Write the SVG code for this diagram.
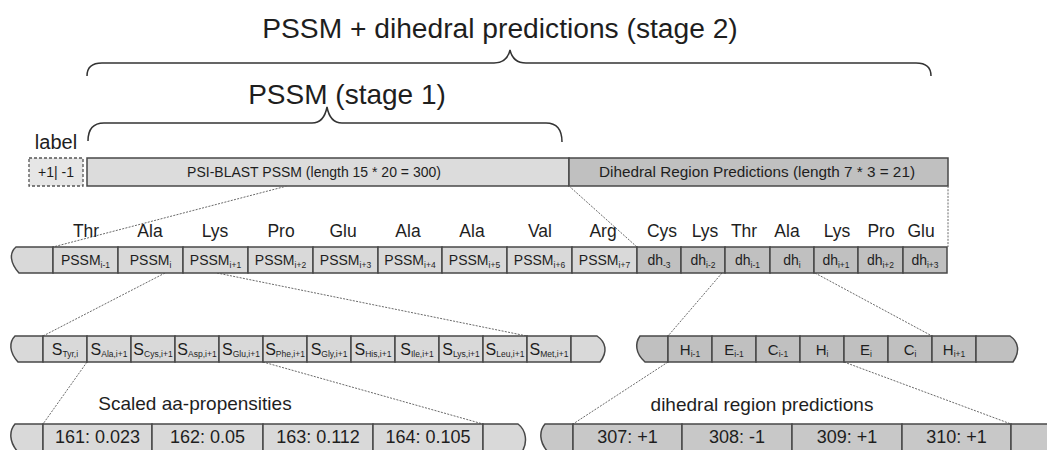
<svg xmlns="http://www.w3.org/2000/svg" width="1047" height="450" viewBox="0 0 1047 450">
  <style>
    text { font-family: "Liberation Sans", Arial, Helvetica, sans-serif; fill: #1e1e1e; }
    .lt { fill: #d9d9d9; stroke: #484848; stroke-width: 1.5; }
    .dk { fill: #c0c0c0; stroke: #484848; stroke-width: 1.5; }
    .dash { fill: #e6e6e6; stroke: #555; stroke-width: 1.3; stroke-dasharray: 3 2; }
    .brace { fill: none; stroke: #333; stroke-width: 1.5; }
    .conn { fill: none; stroke: #6a6a6a; stroke-width: 1; stroke-dasharray: 2 1.3; }
    .aa { font-size: 17.5px; text-anchor: middle; }
    .bar { font-size: 14px; text-anchor: middle; }
    .ps { font-size: 14px; text-anchor: middle; }
    .sc { font-size: 16px; text-anchor: middle; }
    .hc { font-size: 15px; text-anchor: middle; }
    .sub { font-size: 8.5px; }
    .val { font-size: 18px; text-anchor: middle; }
    .cap { font-size: 19px; text-anchor: middle; }
  </style>

  <!-- headings and braces -->
  <g id="stage2">
    <text x="500" y="38" font-size="28.2" text-anchor="middle">PSSM + dihedral predictions (stage 2)</text>
    <path class="brace" d="M87,76 Q87,63 102,63 L494,63 Q507,63 510,50 Q513,63 526,63 L916,63 Q931,63 931,76"/>
  </g>
  <g id="stage1">
    <text x="347" y="104" font-size="28" text-anchor="middle">PSSM (stage 1)</text>
    <path class="brace" d="M88,141 Q88,123 104,123 L312,123 Q324,123 327,107 Q330,123 342,123 L546,123 Q562,123 562,142"/>
  </g>

  <!-- input vector bar -->
  <g id="label">
    <text x="56" y="149" font-size="20" text-anchor="middle">label</text>
    <rect class="dash" x="29" y="158" width="54" height="28"/>
    <text class="bar" x="56" y="177">+1| -1</text>
  </g>
  <g id="pssm-bar">
    <rect class="lt" x="87" y="158" width="482" height="28" style="fill:#dcdcdc"/>
    <text class="bar" x="314" y="177">PSI-BLAST PSSM (length 15 * 20 = 300)</text>
  </g>
  <g id="dihedral-bar">
    <rect class="dk" x="569" y="158" width="379" height="28"/>
    <text class="bar" x="757" y="177" textLength="316" lengthAdjust="spacingAndGlyphs" style="font-size:14.5px">Dihedral Region Predictions (length 7 * 3 = 21)</text>
  </g>

  <!-- connectors -->
  <g id="connectors">
    <line class="conn" x1="287" y1="186" x2="53" y2="247"/>
    <line class="conn" x1="569" y1="186" x2="637" y2="247"/>
    <line class="conn" x1="948" y1="186" x2="948" y2="247"/>
    <line class="conn" x1="165" y1="273" x2="43" y2="336"/>
    <line class="conn" x1="217" y1="273" x2="527" y2="336"/>
    <line class="conn" x1="87" y1="362" x2="43" y2="424"/>
    <line class="conn" x1="263" y1="362" x2="483" y2="424"/>
    <line class="conn" x1="722" y1="273" x2="668" y2="336"/>
    <line class="conn" x1="815" y1="273" x2="932" y2="336"/>
    <line class="conn" x1="668" y1="362" x2="573" y2="424"/>
    <line class="conn" x1="844" y1="362" x2="1011" y2="424"/>
  </g>

  <!-- residue names -->
  <g id="residues">
    <text class="aa" x="86" y="237">Thr</text>
    <text class="aa" x="150" y="237">Ala</text>
    <text class="aa" x="215" y="237">Lys</text>
    <text class="aa" x="281" y="237">Pro</text>
    <text class="aa" x="343" y="237">Glu</text>
    <text class="aa" x="408" y="237">Ala</text>
    <text class="aa" x="472" y="237">Ala</text>
    <text class="aa" x="540" y="237">Val</text>
    <text class="aa" x="603" y="237">Arg</text>
    <text class="aa" x="662" y="237">Cys</text>
    <text class="aa" x="705" y="237">Lys</text>
    <text class="aa" x="744" y="237">Thr</text>
    <text class="aa" x="787" y="237">Ala</text>
    <text class="aa" x="837" y="237">Lys</text>
    <text class="aa" x="881" y="237">Pro</text>
    <text class="aa" x="921" y="237">Glu</text>
  </g>

  <!-- window row -->
  <g id="window-row">
    <path class="lt" d="M53,247 L16,247 C9,253 10,263 19,273 L53,273 Z"/>
    <g id="pssm-m1"><rect class="lt" x="53" y="247" width="65" height="26"/><text class="ps" x="85.5" y="265">PSSM<tspan class="sub" dy="3">i-1</tspan></text></g>
    <g id="pssm-0"><rect class="lt" x="118" y="247" width="65" height="26"/><text class="ps" x="150.5" y="265">PSSM<tspan class="sub" dy="3">i</tspan></text></g>
    <g id="pssm-p1"><rect class="lt" x="183" y="247" width="65" height="26"/><text class="ps" x="215.5" y="265">PSSM<tspan class="sub" dy="3">i+1</tspan></text></g>
    <g id="pssm-p2"><rect class="lt" x="248" y="247" width="65" height="26"/><text class="ps" x="280.5" y="265">PSSM<tspan class="sub" dy="3">i+2</tspan></text></g>
    <g id="pssm-p3"><rect class="lt" x="313" y="247" width="65" height="26"/><text class="ps" x="345.5" y="265">PSSM<tspan class="sub" dy="3">i+3</tspan></text></g>
    <g id="pssm-p4"><rect class="lt" x="378" y="247" width="64" height="26"/><text class="ps" x="410" y="265">PSSM<tspan class="sub" dy="3">i+4</tspan></text></g>
    <g id="pssm-p5"><rect class="lt" x="442" y="247" width="65" height="26"/><text class="ps" x="474.5" y="265">PSSM<tspan class="sub" dy="3">i+5</tspan></text></g>
    <g id="pssm-p6"><rect class="lt" x="507" y="247" width="65" height="26"/><text class="ps" x="539.5" y="265">PSSM<tspan class="sub" dy="3">i+6</tspan></text></g>
    <g id="pssm-p7"><rect class="lt" x="572" y="247" width="65" height="26"/><text class="ps" x="604.5" y="265">PSSM<tspan class="sub" dy="3">i+7</tspan></text></g>
    <g id="dh-m3"><rect class="dk" x="637" y="247" width="44" height="26"/><text class="ps" x="659" y="265">dh<tspan class="sub" dy="3">-3</tspan></text></g>
    <g id="dh-m2"><rect class="dk" x="681" y="247" width="44" height="26"/><text class="ps" x="703" y="265">dh<tspan class="sub" dy="3">i-2</tspan></text></g>
    <g id="dh-m1"><rect class="dk" x="725" y="247" width="45" height="26"/><text class="ps" x="747.5" y="265">dh<tspan class="sub" dy="3">i-1</tspan></text></g>
    <g id="dh-0"><rect class="dk" x="770" y="247" width="44" height="26"/><text class="ps" x="792" y="265">dh<tspan class="sub" dy="3">i</tspan></text></g>
    <g id="dh-p1"><rect class="dk" x="814" y="247" width="44" height="26"/><text class="ps" x="836" y="265">dh<tspan class="sub" dy="3">i+1</tspan></text></g>
    <g id="dh-p2"><rect class="dk" x="858" y="247" width="45" height="26"/><text class="ps" x="880.5" y="265">dh<tspan class="sub" dy="3">i+2</tspan></text></g>
    <g id="dh-p3"><rect class="dk" x="903" y="247" width="44" height="26"/><text class="ps" x="925" y="265">dh<tspan class="sub" dy="3">i+3</tspan></text></g>
  </g>

  <!-- scaled propensity row -->
  <g id="propensity-row">
    <path class="lt" d="M43,336 L15,336 C9,342 9,352 18,362 L43,362 Z"/>
    <g id="s-tyr"><rect class="lt" x="43" y="336" width="44" height="26"/><text class="sc" x="65" y="355">S<tspan class="sub" dy="2">Tyr,i</tspan></text></g>
    <g id="s-ala"><rect class="lt" x="87" y="336" width="44" height="26"/><text class="sc" x="109" y="355">S<tspan class="sub" dy="2">Ala,i+1</tspan></text></g>
    <g id="s-cys"><rect class="lt" x="131" y="336" width="44" height="26"/><text class="sc" x="153" y="355">S<tspan class="sub" dy="2">Cys,i+1</tspan></text></g>
    <g id="s-asp"><rect class="lt" x="175" y="336" width="44" height="26"/><text class="sc" x="197" y="355">S<tspan class="sub" dy="2">Asp,i+1</tspan></text></g>
    <g id="s-glu"><rect class="lt" x="219" y="336" width="44" height="26"/><text class="sc" x="241" y="355">S<tspan class="sub" dy="2">Glu,i+1</tspan></text></g>
    <g id="s-phe"><rect class="lt" x="263" y="336" width="44" height="26"/><text class="sc" x="285" y="355">S<tspan class="sub" dy="2">Phe,i+1</tspan></text></g>
    <g id="s-gly"><rect class="lt" x="307" y="336" width="44" height="26"/><text class="sc" x="329" y="355">S<tspan class="sub" dy="2">Gly,i+1</tspan></text></g>
    <g id="s-his"><rect class="lt" x="351" y="336" width="44" height="26"/><text class="sc" x="373" y="355">S<tspan class="sub" dy="2">His,i+1</tspan></text></g>
    <g id="s-ile"><rect class="lt" x="395" y="336" width="44" height="26"/><text class="sc" x="417" y="355">S<tspan class="sub" dy="2">Ile,i+1</tspan></text></g>
    <g id="s-lys"><rect class="lt" x="439" y="336" width="44" height="26"/><text class="sc" x="461" y="355">S<tspan class="sub" dy="2">Lys,i+1</tspan></text></g>
    <g id="s-leu"><rect class="lt" x="483" y="336" width="44" height="26"/><text class="sc" x="505" y="355">S<tspan class="sub" dy="2">Leu,i+1</tspan></text></g>
    <g id="s-met"><rect class="lt" x="527" y="336" width="44" height="26"/><text class="sc" x="549" y="355">S<tspan class="sub" dy="2">Met,i+1</tspan></text></g>
    <path class="lt" d="M571,336 L597,336 C606,342 608,352 600,362 L571,362 Z"/>
  </g>

  <!-- dihedral class row -->
  <g id="region-row">
    <path class="dk" d="M668,336 L640,336 C635,343 635,353 645,362 L668,362 Z"/>
    <g id="h-m1"><rect class="dk" x="668" y="336" width="44" height="26"/><text class="hc" x="690" y="355">H<tspan class="sub" dy="2">i-1</tspan></text></g>
    <g id="e-m1"><rect class="dk" x="712" y="336" width="44" height="26"/><text class="hc" x="734" y="355">E<tspan class="sub" dy="2">i-1</tspan></text></g>
    <g id="c-m1"><rect class="dk" x="756" y="336" width="44" height="26"/><text class="hc" x="778" y="355">C<tspan class="sub" dy="2">i-1</tspan></text></g>
    <g id="h-0"><rect class="dk" x="800" y="336" width="44" height="26"/><text class="hc" x="822" y="355">H<tspan class="sub" dy="2">i</tspan></text></g>
    <g id="e-0"><rect class="dk" x="844" y="336" width="44" height="26"/><text class="hc" x="866" y="355">E<tspan class="sub" dy="2">i</tspan></text></g>
    <g id="c-0"><rect class="dk" x="888" y="336" width="44" height="26"/><text class="hc" x="910" y="355">C<tspan class="sub" dy="2">i</tspan></text></g>
    <g id="h-p1"><rect class="dk" x="932" y="336" width="44" height="26"/><text class="hc" x="954" y="355">H<tspan class="sub" dy="2">i+1</tspan></text></g>
    <path class="dk" d="M976,336 L1010,336 C1019,342 1020,352 1013,362 L976,362 Z"/>
  </g>

  <!-- feature value rows -->
  <text class="cap" x="195" y="410">Scaled aa-propensities</text>
  <text class="cap" x="762" y="411">dihedral region predictions</text>

  <g id="aa-values">
    <path class="lt" d="M43,424 L15,424 C9,431 9,442 18,452 L43,452 Z"/>
    <g id="v161"><rect class="lt" x="43" y="424" width="109" height="28"/><text class="val" x="97.5" y="443">161: 0.023</text></g>
    <g id="v162"><rect class="lt" x="152" y="424" width="111" height="28"/><text class="val" x="207.5" y="443">162: 0.05</text></g>
    <g id="v163"><rect class="lt" x="263" y="424" width="110" height="28"/><text class="val" x="318" y="443">163: 0.112</text></g>
    <g id="v164"><rect class="lt" x="373" y="424" width="110" height="28"/><text class="val" x="428" y="443">164: 0.105</text></g>
    <path class="lt" d="M483,424 L518,424 C526,430 528,442 522,452 L483,452 Z"/>
  </g>
  <g id="region-values">
    <path class="dk" d="M573,424 L545,424 C539,431 539,442 548,452 L573,452 Z" style="fill:#c8c8c8"/>
    <g id="v307"><rect class="dk" x="573" y="424" width="109" height="28" style="fill:#c8c8c8"/><text class="val" x="627.5" y="443">307: +1</text></g>
    <g id="v308"><rect class="dk" x="682" y="424" width="110" height="28" style="fill:#c8c8c8"/><text class="val" x="737" y="443">308: -1</text></g>
    <g id="v309"><rect class="dk" x="792" y="424" width="110" height="28" style="fill:#c8c8c8"/><text class="val" x="847" y="443">309: +1</text></g>
    <g id="v310"><rect class="dk" x="902" y="424" width="109" height="28" style="fill:#c8c8c8"/><text class="val" x="956.5" y="443">310: +1</text></g>
    <rect class="dk" x="1011" y="424" width="45" height="28" style="fill:#c8c8c8"/>
  </g>
</svg>
